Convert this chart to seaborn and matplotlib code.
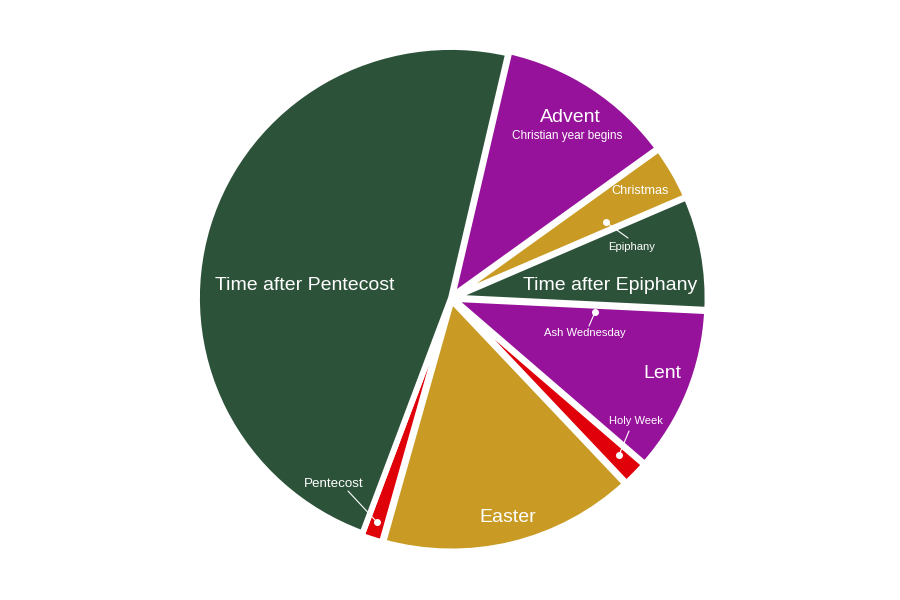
import numpy as np
import matplotlib
matplotlib.use("Agg")
import matplotlib.pyplot as plt
import seaborn as sns

# ---- data (angular share of the year, degrees) ----
seasons = ["Advent", "Christmas", "Time after Epiphany", "Lent", "Holy Week",
           "Easter", "Pentecost", "Time after Pentecost"]
shares = [41.0, 12.5, 26.3, 38.3, 5.8, 58.7, 4.8, 172.6]
season_colors = ["#96129B", "#C99B24", "#2D523A", "#96129B", "#E0000A",
                 "#C99B24", "#E0000A", "#2D523A"]

# big labels: (text, x px, y px)
big_labels = [("Time after Pentecost", 305, 285), ("Advent", 570, 117),
              ("Time after Epiphany", 610, 286), ("Lent", 662, 374),
              ("Easter", 508, 518)]
small_labels = [("Christian year begins", 567, 136, 8.5), ("Christmas", 640, 191, 9.2)]
# point annotations: (text, season whose start angle anchors it, angle offset deg, radius frac,
#                     text x px, text y px, line end x px, line end y px, fontsize)
markers = [("Epiphany", "Time after Epiphany", -2.9, 0.68, 632, 247, 628, 238, 8.1),
           ("Ash Wednesday", "Lent", 2.8, 0.57, 585, 333, 589, 326, 8.1),
           ("Holy Week", "Holy Week", 2.2, 0.91, 636, 421, 629, 431, 8.0),
           ("Pentecost", "Pentecost", 2.4, 0.94, 334, 484, 348, 491, 9.6)]

sns.set_theme(style="white")
plt.rcParams["font.family"] = ["Liberation Sans", "DejaVu Sans"]

W, H = 900, 600
CX, CY, RX, RY = 451, 298, 254, 251

fig = plt.figure(figsize=(9, 6), dpi=100)
ax = fig.add_axes([0, 0, 1, 1])

START_CW = 13.0
explode = [0.01] * len(shares)
explode[-1] = 0.0
wedges, _ = ax.pie(shares, colors=season_colors, startangle=90 - START_CW,
                   counterclock=False, explode=explode, radius=1.0,
                   wedgeprops=dict(edgecolor="white", linewidth=4.2))
ax.set_aspect("auto")
ax.set_xlim(-CX / RX, (W - CX) / RX)
ax.set_ylim(-(H - CY) / RY, CY / RY)
ax.axis("off")


def px(x, y):
    return (x - CX) / RX, (CY - y) / RY


for txt, x, y in big_labels:
    ax.text(*px(x, y), txt, color="white", fontsize=14, ha="center", va="center")
for txt, x, y, fs in small_labels:
    ax.text(*px(x, y), txt, color="white", fontsize=fs, ha="center", va="center")

cum = np.concatenate([[0], np.cumsum(shares)])
start_of = {s: cum[i] for i, s in enumerate(seasons)}
for txt, season, dang, rf, tx, ty, lx, ly, fs in markers:
    ang_cw = START_CW + start_of[season] + dang  # clockwise from north
    th = np.deg2rad(90 - ang_cw)
    dx, dy = rf * np.cos(th), rf * np.sin(th)
    ax.plot([dx, px(lx, ly)[0]], [dy, px(lx, ly)[1]], color="white", lw=0.8)
    ax.plot(dx, dy, "o", color="white", ms=4)
    ax.text(*px(tx, ty), txt, color="white", fontsize=fs, ha="center", va="center")

fig.savefig("out.png", dpi=100, facecolor="white")
